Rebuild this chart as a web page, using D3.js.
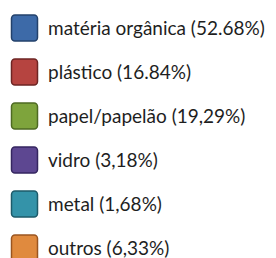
<!DOCTYPE html>
<html>
<head>
<meta charset="utf-8">
<script src="https://cdn.jsdelivr.net/npm/d3@7"></script>
<style>
  body { margin: 0; background: #fff; }
</style>
</head>
<body>
<div id="chart"></div>
<script>
// legend data
var categories = ["matéria orgânica", "plástico", "papel/papelão", "vidro", "metal", "outros"];
var valueLabels = ["(52.68%)", "(16.84%)", "(19,29%)", "(3,18%)", "(1,68%)", "(6,33%)"];
var colors = ["#3d6aa8", "#b64440", "#7ea43c", "#5d4791", "#3493a9", "#e08a3e"];
var borders = ["#23416b", "#6e2523", "#4e6a22", "#352660", "#1d5b6a", "#9a5520"];

var width = 276, height = 258;

var svg = d3.select("#chart").append("svg")
    .attr("width", width)
    .attr("height", height);

var y = d3.scalePoint()
    .domain(categories)
    .range([28, 248]);

var item = svg.selectAll(".item")
    .data(categories)
    .enter().append("g")
    .attr("class", "item")
    .attr("transform", function(d) { return "translate(0," + y(d) + ")"; });

item.append("rect")
    .attr("x", 11.5)
    .attr("y", -13)
    .attr("width", 26)
    .attr("height", 26)
    .attr("rx", 3.5)
    .attr("fill", function(d, i) { return colors[i]; })
    .attr("stroke", function(d, i) { return borders[i]; })
    .attr("stroke-width", 1.5);

item.append("text")
    .attr("x", 48)
    .attr("y", 7)
    .attr("font-family", "Lato, sans-serif")
    .attr("font-size", 19)
    .attr("fill", "#1e1e1e")
    .text(function(d, i) { return d + " " + valueLabels[i]; });
</script>
</body>
</html>
